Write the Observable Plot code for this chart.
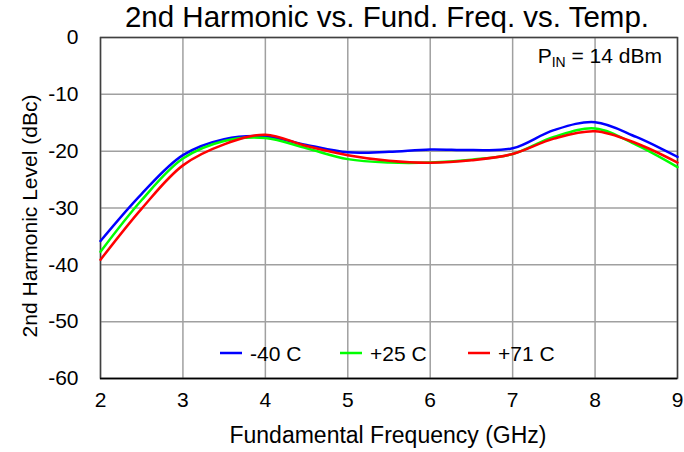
<!DOCTYPE html>
<html><head><meta charset="utf-8">
<script src="https://cdn.jsdelivr.net/npm/d3@7"></script>
<script src="https://cdn.jsdelivr.net/npm/@observablehq/plot@0.6"></script>
<style>body{margin:0;background:#fff;} svg{display:block;}</style>
</head><body><div id="chart"></div>
<script>
const freq = [2, 2.5, 3, 3.5, 4, 4.5, 5, 5.5, 6, 6.5, 7, 7.5, 8, 8.5, 9];
const m40 = [-35.8, -27.5, -20.7, -17.9, -17.4, -18.9, -20.2, -20.1, -19.7, -19.8, -19.5, -16.3, -14.9, -17.5, -21.0];
const p25 = [-37.7, -28.6, -21.3, -18.2, -17.7, -19.5, -21.4, -22.0, -22.0, -21.5, -20.5, -17.5, -16.0, -18.9, -22.8];
const p71 = [-39.1, -30.1, -22.5, -18.8, -17.1, -19.1, -20.7, -21.7, -22.05, -21.6, -20.5, -17.8, -16.5, -18.6, -22.0];
const seriesNames = ["-40 C", "+25 C", "+71 C"];
const seriesColors = ["#0000ff", "#00ff00", "#ff0000"];
const xTicks = [2, 3, 4, 5, 6, 7, 8, 9];
const yTicks = [0, -10, -20, -30, -40, -50, -60];
const titleText = "2nd Harmonic vs. Fund. Freq. vs. Temp.";
const xLabel = "Fundamental Frequency (GHz)";
const yLabel = "2nd Harmonic Level (dBc)";

const allSeries = [m40, p25, p71];
const data = [];
allSeries.forEach((vals, si) => vals.forEach((v, i) => data.push({f: freq[i], v, s: seriesNames[si]})));

const font = "'Liberation Sans', Arial, sans-serif";
const W = 684, H = 452, ML = 100, MR = 7, MT = 37, MB = 74;

const plot = Plot.plot({
  width: W, height: H,
  marginLeft: ML, marginRight: MR, marginTop: MT, marginBottom: MB,
  style: {fontFamily: font, fontSize: "21px", color: "#000", background: "#fff"},
  x: {domain: [2, 9]},
  y: {domain: [-60, 0]},
  color: {domain: seriesNames, range: seriesColors},
  marks: [
    Plot.gridX(xTicks, {stroke: "#a0a0a0", strokeOpacity: 1, strokeWidth: 1.5}),
    Plot.gridY(yTicks, {stroke: "#a0a0a0", strokeOpacity: 1, strokeWidth: 1.5}),
    Plot.frame({stroke: "#404040", strokeWidth: 1.5}),
    Plot.ruleY([-60], {stroke: "#000", strokeWidth: 1.5}),
    Plot.axisX({ticks: xTicks, tickSize: 0, tickPadding: 14, label: null, fontSize: 21, tickFormat: d => String(d)}),
    Plot.axisY({ticks: yTicks, tickSize: 0, tickPadding: 22, label: null, fontSize: 21, tickFormat: d => String(d)}),
    Plot.line(data, {x: "f", y: "v", z: "s", stroke: "s", strokeWidth: 2.5, curve: "catmull-rom"})
  ]
});
document.getElementById("chart").appendChild(plot);

const svg = d3.select(plot);
svg.append("text").attr("x", 387).attr("y", 27).attr("text-anchor", "middle")
  .style("font-family", font).style("font-size", "29.5px").text(titleText);
svg.append("text").attr("x", 388).attr("y", 443).attr("text-anchor", "middle")
  .style("font-family", font).style("font-size", "23px").text(xLabel);
svg.append("text").attr("transform", "translate(37,216) rotate(-90)").attr("text-anchor", "middle")
  .style("font-family", font).style("font-size", "21px").text(yLabel);

// P_IN annotation
const ann = svg.append("text").attr("x", 662).attr("y", 63).attr("text-anchor", "end")
  .style("font-family", font).style("font-size", "21px");
ann.append("tspan").text("P");
ann.append("tspan").attr("dy", 4).style("font-size", "14px").text("IN");
ann.append("tspan").attr("dy", -4).text(" = 14 dBm");

// legend
const legX = [220, 340, 468];
const lg = svg.append("g");
seriesNames.forEach((n, i) => {
  lg.append("line").attr("x1", legX[i]).attr("x2", legX[i] + 22).attr("y1", 353).attr("y2", 353)
    .attr("stroke", seriesColors[i]).attr("stroke-width", 2.5);
  lg.append("text").attr("x", legX[i] + 30).attr("y", 361).attr("text-anchor", "start")
    .style("font-family", font).style("font-size", "21px").text(n);
});
</script></body></html>
